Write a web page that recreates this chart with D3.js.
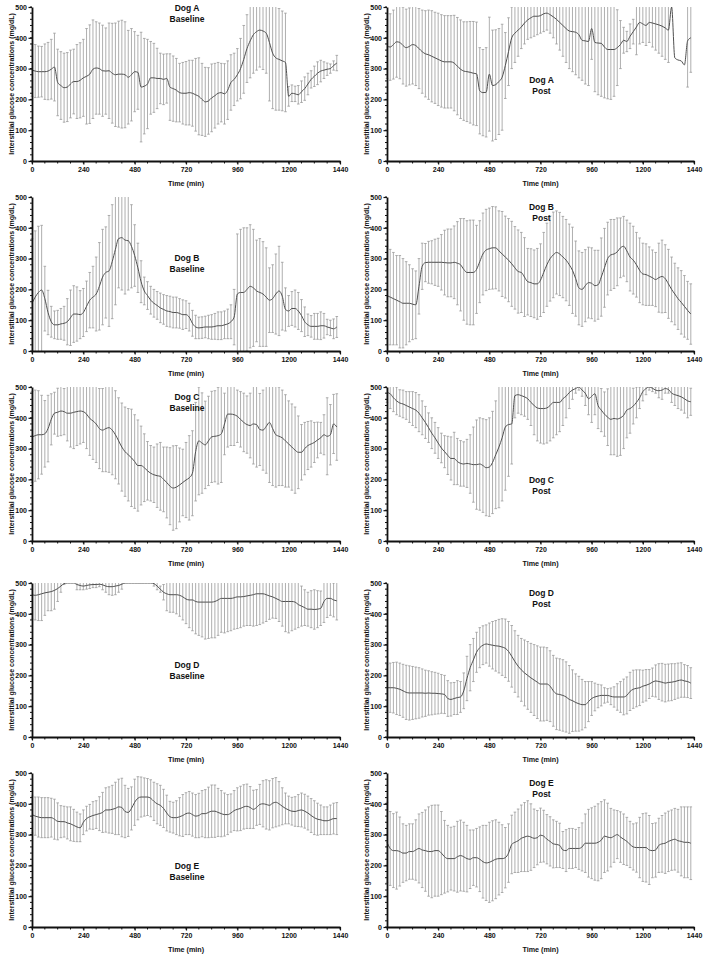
<!DOCTYPE html>
<html><head><meta charset="utf-8">
<script src="https://cdn.jsdelivr.net/npm/d3@7"></script>
<style>
html,body{margin:0;padding:0;background:#fff;}
svg text{font-family:"Liberation Sans",Arial,sans-serif;font-weight:bold;fill:#111;}
</style></head>
<body><svg id="chart" width="709" height="956"></svg>
<script>
// Sampling times (min): every 15 min from 0 to 1425
const times = d3.range(0, 1440, 15);
const xTicks = [0, 240, 480, 720, 960, 1200, 1440];
const yTicks = [0, 100, 200, 300, 400, 500];
const yLabel = "Interstitial glucose concentrations (mg/dL)";
const xLabel = "Time (min)";

const dogABaselineMean = [295,292,290,290,290,292,298,305,255,245, 238,240,250,258,258,262,270,275,282,298, 302,300,293,292,293,285,280,282,282,280, 272,280,290,288,240,243,250,270,270,268, 268,265,268,240,235,230,222,220,220,222, 220,215,210,200,192,195,205,212,220,222, 218,230,255,265,280,300,330,365,390,410, 420,425,422,415,385,350,335,330,325,320, 210,220,218,215,225,235,250,265,275,285, 292,295,298,300,310,318];
const dogABaselineSD = [85,86,83,82,90,93,97,110,108,110, 112,112,110,105,120,122,125,155,160,160, 150,148,148,140,155,162,168,172,175,172, 152,150,130,120,178,155,145,118,112,98, 82,82,80,108,106,103,95,100,103,105, 107,118,125,117,112,108,110,105,100,95, 98,95,90,85,85,98,110,110,120,125, 125,120,125,130,190,180,170,165,162,160, 32,27,25,30,35,38,35,28,33,37, 35,27,20,15,15,25];

const dogAPostMean = [373,370,378,387,385,375,368,372,378,375, 365,355,348,345,340,335,330,325,322,322, 322,318,308,298,292,290,288,285,283,228, 222,223,282,245,248,258,272,310,355,400, 415,425,435,448,458,465,470,470,472,478, 480,475,468,460,450,440,430,422,420,418, 410,392,390,388,430,385,383,382,370,362, 362,362,368,378,392,388,405,420,435,450, 445,440,450,448,445,442,438,432,425,500, 335,328,325,312,390,400];
const dogAPostSD = [105,108,112,115,118,125,125,125,128,130, 130,135,140,145,148,148,150,150,150,150, 150,155,158,160,160,162,165,168,168,140, 140,145,185,180,178,172,172,107,110,100, 95,85,70,68,63,65,65,60,57,58, 55,60,68,80,90,100,110,122,130,138, 140,130,140,143,100,160,168,172,165,160, 162,152,123,78,42,33,40,40,90,70, 60,65,65,78,85,92,98,102,105,null, null,null,null,null,150,112];

const dogBBaselineMean = [155,175,190,198,170,125,95,85,85,88, 90,95,108,120,120,118,125,145,165,175, 185,210,240,255,260,290,330,365,368,360, 358,340,310,270,225,195,180,165,155,148, 140,135,130,128,125,125,122,118,118,110, 90,78,75,76,78,78,78,80,82,82, 85,88,95,110,185,190,190,200,210,205, 195,190,185,175,165,170,185,195,178,135, 130,138,138,130,115,95,85,80,80,80, 82,82,78,75,72,78];
const dogBBaselineSD = [210,215,215,210,105,72,50,45,47,50, 55,75,90,92,88,78,78,82,90,100, 120,142,155,148,180,185,180,160,170,175, 160,135,100,80,68,45,45,45,45,45, 48,48,50,50,50,50,48,48,45,45, 42,38,35,35,35,38,40,42,45,45, 45,48,55,90,195,205,210,200,200,190, 165,175,170,160,105,110,130,145,110,70, 50,55,60,60,52,48,35,35,42,42, 45,40,25,25,32,34];

const dogBPostMean = [180,175,170,165,160,155,155,155,152,150, 210,275,287,288,288,288,288,288,287,286, 286,288,285,280,265,255,255,255,265,290, 315,328,332,335,335,325,315,305,295,283, 270,258,255,240,225,222,218,218,230,255, 280,300,312,320,315,305,295,280,262,235, 205,200,212,222,220,212,215,240,270,300, 312,315,322,335,340,325,305,295,280,262, 250,248,243,238,232,238,242,235,218,200, 185,170,158,145,132,120];
const dogBPostSD = [160,155,150,145,150,145,135,125,115,110, 90,75,62,68,70,75,78,90,105,110, 110,118,135,150,165,168,170,170,143,133, 133,132,132,134,133,130,138,133,135,138, 134,135,130,128,108,110,110,115,118,130, 135,138,139,135,135,132,132,132,140,122, 120,120,117,115,115,115,112,127,128,118, 115,112,110,97,97,100,110,110,105,105, 100,100,95,90,88,112,118,110,112,105, 100,100,103,100,94,98];

const dogCBaselineMean = [338,342,345,345,348,365,395,415,418,422, 420,415,415,418,420,422,420,412,398,390, 380,365,360,365,368,360,345,325,305,290, 280,270,258,245,245,238,228,220,215,212, 210,200,190,178,172,175,182,190,198,205, 220,290,325,318,312,325,338,340,342,348, 380,412,412,410,405,395,385,378,375,380, 378,362,360,372,385,365,345,340,335,325, 315,305,295,288,288,300,310,315,320,328, 335,345,340,345,380,370];
const dogCBaselineSD = [148,148,143,128,108,108,83,68,78,80, 75,90,110,118,110,107,100,112,120,125, 125,130,135,140,145,145,143,140,143,145, 150,158,152,148,128,110,95,90,90,103, 110,105,115,125,137,135,120,108,122,137, 138,160,175,163,142,145,148,148,157,158, 100,107,102,100,85,90,95,93,105,130, 138,117,130,152,195,185,170,160,155,150, 140,140,140,118,90,85,78,75,65,58, 50,65,125,98,96,108];

const dogCPostMean = [482,478,465,455,448,445,440,435,430,425, 415,400,385,368,350,335,318,302,290,278, 268,268,258,252,250,252,250,248,248,250, 245,238,240,255,280,305,335,370,378,380, 472,475,472,468,462,450,440,432,430,430, 432,440,450,450,450,462,470,482,490,495, 500,490,480,462,470,478,440,425,412,402, 395,398,396,400,408,425,430,438,450,465, 485,495,500,496,490,488,490,495,492,480, 475,472,468,462,455,452];
const dogCPostSD = [32,48,45,45,43,45,45,50,55,57, 60,55,52,48,50,50,50,48,52,62, 70,85,75,74,72,78,95,122,145,150, 152,156,160,166,175,197,205,205,168,130, 72,60,62,63,67,75,95,107,112,115, 114,115,115,105,95,87,70,52,30,15, 10,20,40,52,85,68,75,70,72,92, 115,118,121,122,108,90,80,58,50,35, 30,20,10,11,10,23,30,15,12,30, 35,42,43,47,55,44];

const dogDBaselineMean = [462,460,462,465,468,470,472,476,482,490, 498,500,500,500,495,492,490,492,494,495, 495,496,494,490,488,488,490,492,496,500, 500,500,500,500,500,500,500,500,498,490, 480,470,465,462,462,462,460,455,448,445, 445,440,438,438,438,438,438,440,445,450, 450,450,450,452,455,455,456,458,460,462, 465,465,465,462,458,455,450,445,440,440, 440,440,438,430,425,420,415,415,414,415, 418,440,450,450,445,442];
const dogDBaselineSD = [79,80,84,87,73,60,62,61,42,20, 3,0,0,0,17,14,12,12,12,10, 10,8,16,20,26,28,28,22,16,0, 0,0,0,0,0,0,0,0,8,12, 10,25,55,57,57,62,68,75,80,90, 100,105,108,113,120,118,116,118,115,110, 112,108,105,102,103,100,96,96,98,102, 103,100,95,87,76,69,65,70,80,98, 102,95,88,75,65,58,55,60,64,60, 56,68,62,55,55,62];

const dogDPostMean = [160,160,160,158,155,150,145,143,143,143, 143,143,142,143,142,142,141,140,138,125, 122,125,128,130,150,190,225,250,275,290, 298,302,300,298,296,295,292,288,278,262, 245,230,218,208,200,192,185,178,172,172, 172,165,150,140,138,135,130,122,118,112, 108,105,105,115,125,130,133,135,135,135, 132,130,130,130,130,135,148,155,158,160, 165,168,172,178,182,180,178,175,177,178, 180,183,185,182,180,175];
const dogDPostSD = [75,80,82,85,85,86,88,88,86,84, 82,78,75,72,70,68,66,63,62,58, 54,52,55,50,58,72,75,70,65,65, 63,62,70,77,82,87,92,95,97,100, 100,100,102,107,110,112,115,118,120,120, 118,115,115,116,116,116,114,110,100,93, 89,82,75,65,55,45,38,34,25,22, 27,33,43,50,58,60,62,62,60,58, 52,51,47,46,52,58,61,61,60,60, 58,57,56,53,52,50];

const dogEBaselineMean = [365,360,357,355,355,355,355,350,343,342, 342,338,335,330,325,322,340,352,358,362, 365,368,372,380,380,382,385,390,388,375, 372,385,405,418,422,422,422,418,408,400, 395,385,370,358,355,355,358,362,368,370, 365,360,362,368,368,372,376,376,372,368, 365,365,370,378,382,385,390,392,388,382, 388,398,400,398,395,402,405,400,392,385, 380,376,375,378,380,376,370,362,355,350, 348,345,345,348,352,352];
const dogEBaselineSD = [60,62,65,65,65,65,63,65,60,52, 50,52,55,52,48,45,40,40,40,45, 45,55,65,72,75,78,85,90,95,85, 78,70,75,70,65,62,60,60,62,65, 65,62,58,50,50,55,62,68,68,70, 70,70,72,75,78,82,85,85,78,75, 70,65,62,65,70,72,72,72,68,62, 58,65,75,80,80,80,80,72,60,50, 45,45,48,52,55,55,55,55,55,52, 48,45,45,48,50,52];

const dogEPostMean = [275,255,248,248,245,240,240,245,245,250, 255,250,248,245,245,248,248,240,228,222, 222,222,228,232,228,222,220,225,225,220, 212,208,210,215,220,222,222,225,240,268, 275,280,288,292,295,292,288,290,298,295, 285,278,270,268,265,250,248,255,255,255, 255,260,272,272,272,272,275,282,295,292, 290,295,300,292,285,278,268,260,258,258, 258,258,250,248,250,265,270,272,278,282, 285,280,278,275,275,272];
const dogEPostSD = [130,120,120,125,112,95,90,90,90,98, 112,122,132,145,150,148,148,135,118,108, 102,105,115,115,112,108,95,90,95,105, 118,122,130,130,128,118,110,98,95,95, 98,103,108,112,115,108,95,88,88,84, 80,80,78,75,72,60,68,65,65,62, 68,78,95,110,115,120,125,125,118,110, 95,85,78,82,82,78,75,75,80,98, 110,112,112,88,88,88,92,98,98,98, 100,102,112,115,115,118];

const panels = [
  {dog:"Dog A", phase:"Baseline", mean:dogABaselineMean, sd:dogABaselineSD, col:0, row:0, titleDy:1},
  {dog:"Dog A", phase:"Post",     mean:dogAPostMean,     sd:dogAPostSD,     col:1, row:0, titleDy:73},
  {dog:"Dog B", phase:"Baseline", mean:dogBBaselineMean, sd:dogBBaselineSD, col:0, row:1, titleDy:61},
  {dog:"Dog B", phase:"Post",     mean:dogBPostMean,     sd:dogBPostSD,     col:1, row:1, titleDy:10},
  {dog:"Dog C", phase:"Baseline", mean:dogCBaselineMean, sd:dogCBaselineSD, col:0, row:2, titleDy:10},
  {dog:"Dog C", phase:"Post",     mean:dogCPostMean,     sd:dogCPostSD,     col:1, row:2, titleDy:93},
  {dog:"Dog D", phase:"Baseline", mean:dogDBaselineMean, sd:dogDBaselineSD, col:0, row:3, titleDy:82},
  {dog:"Dog D", phase:"Post",     mean:dogDPostMean,     sd:dogDPostSD,     col:1, row:3, titleDy:10},
  {dog:"Dog E", phase:"Baseline", mean:dogEBaselineMean, sd:dogEBaselineSD, col:0, row:4, titleDy:93},
  {dog:"Dog E", phase:"Post",     mean:dogEPostMean,     sd:dogEPostSD,     col:1, row:4, titleDy:10}
];

const colX = [32, 387], colW = [308, 307];
const rowTop = [7, 197, 387, 583, 773];
const plotH = 154;

const svg = d3.select("#chart");
svg.append("rect").attr("width",709).attr("height",956).attr("fill","#fff");
const defs = svg.append("defs");

panels.forEach((p, k) => {
  const x0 = colX[p.col], w = colW[p.col], y0 = rowTop[p.row];
  const x = d3.scaleLinear().domain([0,1440]).range([0, w]);
  const y = d3.scaleLinear().domain([0,500]).range([plotH, 0]);
  const g = svg.append("g").attr("transform", `translate(${x0},${y0})`);

  defs.append("clipPath").attr("id","clip"+k)
    .append("rect").attr("x",-2).attr("y",0).attr("width",w+4).attr("height",plotH);
  const plot = g.append("g").attr("clip-path",`url(#clip${k})`);

  const pts = times.map((t,i)=>({t, m:p.mean[i], s:p.sd[i]})).filter(d=>d.m!=null);
  const bars = pts.filter(d=>d.s!=null && d.s>0);
  const eb = plot.append("g").attr("stroke","#9b9b9b").attr("stroke-width",0.8).attr("fill","none");
  eb.selectAll("line.v").data(bars).join("line").attr("class","v")
    .attr("x1",d=>x(d.t)).attr("x2",d=>x(d.t))
    .attr("y1",d=>y(d.m+d.s)).attr("y2",d=>y(d.m-d.s));
  eb.selectAll("line.ct").data(bars).join("line").attr("class","ct")
    .attr("x1",d=>x(d.t)-1.3).attr("x2",d=>x(d.t)+1.3)
    .attr("y1",d=>y(d.m+d.s)).attr("y2",d=>y(d.m+d.s));
  eb.selectAll("line.cb").data(bars).join("line").attr("class","cb")
    .attr("x1",d=>x(d.t)-1.3).attr("x2",d=>x(d.t)+1.3)
    .attr("y1",d=>y(d.m-d.s)).attr("y2",d=>y(d.m-d.s));

  const line = d3.line().x(d=>x(d.t)).y(d=>y(d.m)).curve(d3.curveMonotoneX);
  plot.append("path").datum(pts).attr("d",line)
    .attr("fill","none").attr("stroke","#505050").attr("stroke-width",1);

  // axes
  const yMinor = d3.range(0,501,20);
  const xMinor = d3.range(0,1441,60);
  const yax = g.append("g");
  yax.selectAll("line.mi").data(yMinor).join("line").attr("class","mi")
    .attr("x1",-2).attr("x2",0).attr("y1",d=>y(d)).attr("y2",d=>y(d))
    .attr("stroke","#111").attr("stroke-width",1);
  yax.call(d3.axisLeft(y).tickValues(yTicks).tickFormat(d3.format("d")).tickSize(3.5).tickSizeOuter(0).tickPadding(1.5));
  const xax = g.append("g").attr("transform",`translate(0,${plotH})`);
  xax.selectAll("line.mi").data(xMinor).join("line").attr("class","mi")
    .attr("x1",d=>x(d)).attr("x2",d=>x(d)).attr("y1",0).attr("y2",2.5)
    .attr("stroke","#111").attr("stroke-width",1);
  xax.call(d3.axisBottom(x).tickValues(xTicks).tickFormat(d3.format("d")).tickSize(3.5).tickSizeOuter(0).tickPadding(2.5));
  [yax, xax].forEach(a=>{
    a.select(".domain").attr("stroke","#111").attr("stroke-width",1.8);
    a.selectAll(".tick line").attr("stroke","#111").attr("stroke-width",1.2);
    a.selectAll(".tick text").attr("font-size","7px").attr("font-weight","bold")
      .attr("font-family","'Liberation Sans',Arial,sans-serif").attr("fill","#111");
  });

  g.append("text").attr("x", w/2).attr("y", plotH+24.5).attr("text-anchor","middle")
    .attr("font-size","7.2px").text(xLabel);
  g.append("text").attr("transform",`translate(-21,${plotH/2}) rotate(-90)`)
    .attr("text-anchor","middle").attr("dominant-baseline","central")
    .attr("font-size","7px").text(yLabel);

  const tt = g.append("text").attr("text-anchor","middle").attr("font-size","8.5px");
  tt.append("tspan").attr("x", w/2+1).attr("y", p.titleDy+3).text(p.dog);
  tt.append("tspan").attr("x", w/2+1).attr("y", p.titleDy+14).text(p.phase);
});
</script></body></html>
